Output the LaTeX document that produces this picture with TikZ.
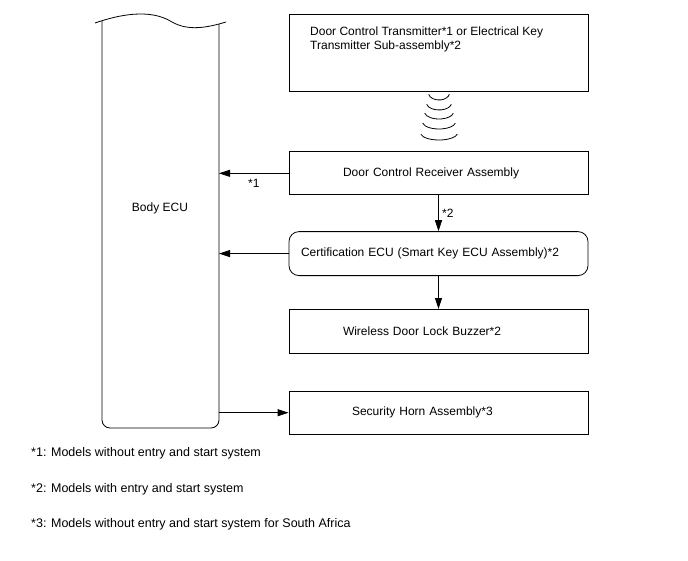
\documentclass[tikz,border=0pt]{standalone}
\usepackage{fontspec}
\setmainfont{Liberation Sans}
\usetikzlibrary{arrows.meta,positioning}

\begin{document}
\begin{tikzpicture}[
  x=1pt, y=-1pt,
  every node/.style={font=\fontsize{12}{14}\selectfont},
  box/.style={draw=black, line width=0.8pt, minimum width=299pt, minimum height=43pt, inner sep=0pt, align=left},
  arr/.style={-{Triangle[length=11pt,width=7pt]}, line width=0.8pt},
  wave/.style={line width=0.8pt},
  note/.style={anchor=west, inner sep=0pt, font=\fontsize{12.5}{14}\selectfont}
]
\useasboundingbox (0,0) rectangle (688,560);

% Body ECU
\draw[line width=0.8pt, rounded corners=8pt] (102,21) -- (102,428) -- (219,428) -- (219,24);
\draw[line width=0.8pt] (95,23) .. controls (118,15) and (150,8) .. (172,22) .. controls (188,31) and (206,28) .. (226,22);
\node (ecu) at (160,208) {Body ECU};
\coordinate (ecuR) at (219,0);

% right column
\node[box, minimum height=77pt] (tx) at (438.5,52.5) {};
\node[anchor=north west, align=left, inner sep=0pt] (txt) at (310,27) {Door Control Transmitter*1 or Electrical Key\\Transmitter Sub-assembly*2};
\node[box, inner xsep=54pt, text width=191pt, below=60pt of tx] (rx) {Door Control Receiver Assembly};
\node[box, inner xsep=12pt, text width=275pt, rounded corners=10pt, minimum height=44pt, below=36pt of rx] (cert) {Certification ECU (Smart Key ECU Assembly)*2};
\node[box, inner xsep=54pt, text width=191pt, minimum height=44pt, below=33pt of cert] (wl) {Wireless Door Lock Buzzer*2};
\node[box, inner xsep=63pt, text width=173pt, below=37pt of wl] (hn) {Security Horn Assembly*3};

% radio waves
\foreach \r/\c in {10.5/93, 12.5/103, 14.5/112, 16.5/122, 18.5/133}
  \draw[wave] (439,\c) ++(170:{\r} and {7}) arc[start angle=170, end angle=10, x radius=\r, y radius=7];

% connections
\draw[arr] (rx.west) -- (rx.west -| ecuR) node[midway, below=2pt] {*1};
\draw[arr] (rx.south) -- (cert.north) node[midway, right] {*2};
\draw[arr] (cert.west) -- (cert.west -| ecuR);
\draw[arr] (cert.south) -- (wl.north);
\draw[arr] (ecuR |- hn.west) -- (hn.west);

% notes
\node[note] (n1) at (31,453) {*1: Models without entry and start system};
\node[note] (n2) at (31,489) {*2: Models with entry and start system};
\node[note] (n3) at (31,524) {*3: Models without entry and start system for South Africa};
\end{tikzpicture}
\end{document}
